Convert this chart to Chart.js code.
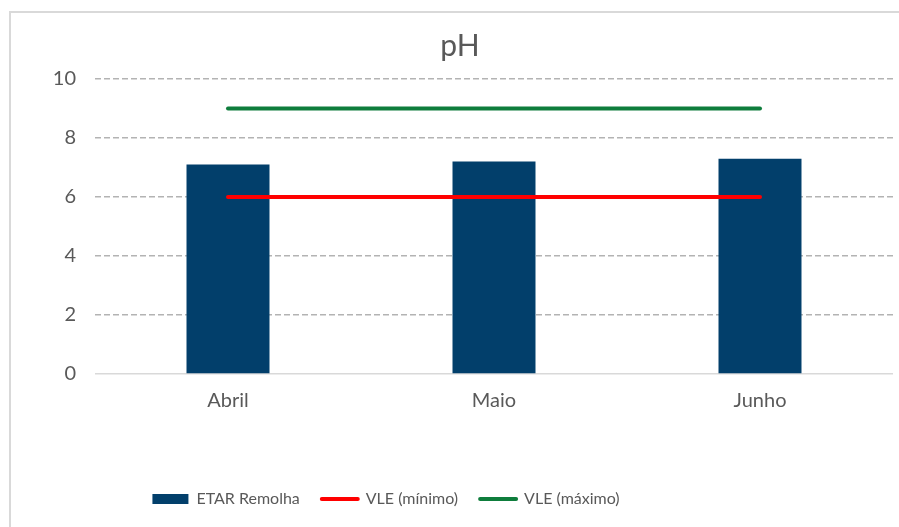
<!DOCTYPE html>
<html>
<head>
<meta charset="utf-8">
<script src="https://cdn.jsdelivr.net/npm/chart.js@4.4.0/dist/chart.umd.min.js"></script>
<style>
    html, body { margin: 0; padding: 0; background: #ffffff; overflow: hidden; }
    #frame {
        position: absolute; left: 9px; top: 11px;
        width: 920px; height: 540px;
        border-left: 2px solid #d9d9d9; border-top: 2px solid #d9d9d9;
    }
    #phChart { position: absolute; left: 0; top: 0; }
</style>
</head>
<body>
<div id="frame"></div>
<canvas id="phChart" width="899" height="527"></canvas>
<script>
// Data
const months = ['Abril', 'Maio', 'Junho'];
const etarRemolha = [7.1, 7.2, 7.3];
const vleMin = [6, 6, 6];
const vleMax = [9, 9, 9];
const yTicks = [0, 2, 4, 6, 8, 10];

const textColor = '#595959';
const fontFamily = 'Lato, "Open Sans", sans-serif';

// move the legend sideways (the original legend is not centred on the frame)
const legendShift = {
    id: 'legendShift',
    afterLayout(chart) {
        const dx = -74;
        chart.legend.left += dx;
        chart.legend.right += dx;
    }
};

var data = {
    labels: months,
    datasets: [
        {
            type: 'bar',
            label: 'ETAR Remolha',
            data: etarRemolha,
            backgroundColor: '#023f6b',
            categoryPercentage: 1,
            barPercentage: 0.312,
            order: 2
        },
        {
            type: 'line',
            label: 'VLE (mínimo)',
            data: vleMin,
            borderColor: '#ff0000',
            borderWidth: 4,
            borderCapStyle: 'round',
            pointRadius: 0,
            order: 1
        },
        {
            type: 'line',
            label: 'VLE (máximo)',
            data: vleMax,
            borderColor: '#0e7d3c',
            borderWidth: 4,
            borderCapStyle: 'round',
            pointRadius: 0,
            order: 1
        }
    ]
};

var options = {
    responsive: false,
    animation: false,
    layout: {
        padding: { top: 12, left: 27, right: 6, bottom: 10 }
    },
    plugins: {
        tooltip: { enabled: false },
        title: {
            display: true,
            text: 'pH',
            color: textColor,
            font: { family: fontFamily, size: 30, weight: 'normal' },
            padding: { top: 16, bottom: 15 }
        },
        legend: {
            position: 'bottom',
            labels: {
                color: textColor,
                font: { family: fontFamily, size: 16 },
                usePointStyle: true,
                pointStyleWidth: 36,
                boxHeight: 10,
                padding: 22,
                generateLabels: chart => chart.data.datasets.map((ds, i) => ({
                    text: ds.label,
                    datasetIndex: i,
                    fillStyle: ds.type === 'line' ? ds.borderColor : ds.backgroundColor,
                    strokeStyle: ds.type === 'line' ? ds.borderColor : ds.backgroundColor,
                    lineWidth: ds.type === 'line' ? 4 : 0,
                    lineCap: 'round',
                    pointStyle: ds.type === 'line' ? 'line' : 'rect',
                    fontColor: textColor,
                    hidden: false
                }))
            }
        }
    },
    scales: {
        x: {
            offset: true,
            grid: { display: false, drawTicks: false },
            border: { display: false },
            ticks: {
                color: textColor,
                font: { family: fontFamily, size: 20 },
                padding: 15
            },
            afterFit: s => { s.height = 95; }
        },
        y: {
            min: 0,
            max: 10,
            afterBuildTicks: s => { s.ticks = yTicks.map(v => ({ value: v })); },
            grid: {
                drawTicks: false,
                lineWidth: 1.5,
                color: c => c.tick && c.tick.value === 0 ? '#d9d9d9' : '#b3b3b3'
            },
            border: {
                display: false,
                dash: c => c.tick && c.tick.value === 0 ? [] : [6, 3]
            },
            ticks: {
                color: textColor,
                font: { family: fontFamily, size: 20 },
                padding: 19
            },
            afterFit: s => { s.width = 68; }
        }
    }
};

new Chart(document.getElementById('phChart'), {
    data: data,
    options: options,
    plugins: [legendShift]
});
</script>
</body>
</html>
